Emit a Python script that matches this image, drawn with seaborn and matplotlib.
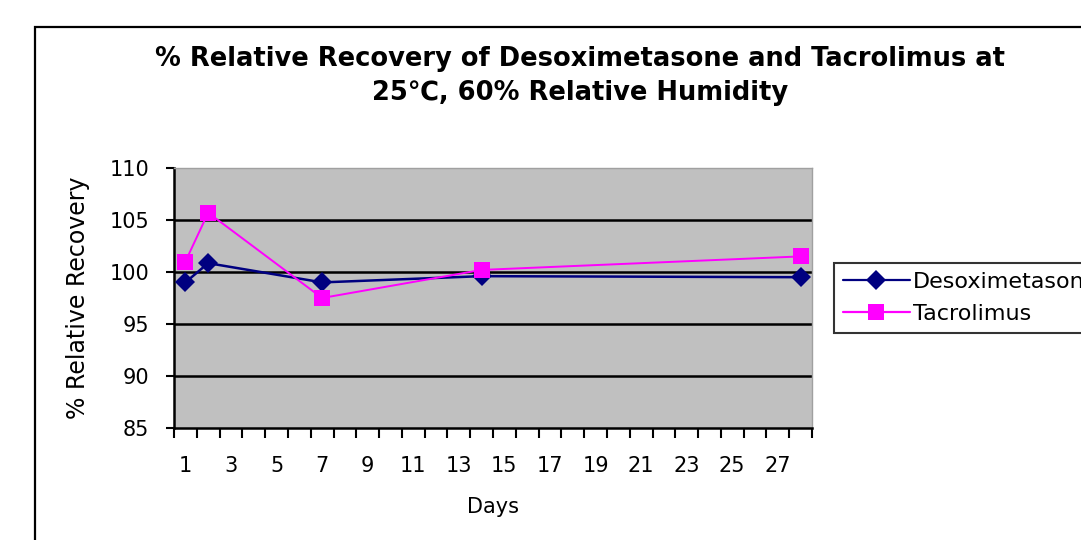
import numpy as np
import pandas as pd
import matplotlib
matplotlib.use("Agg")
import matplotlib.pyplot as plt
import matplotlib.patches as patches
import seaborn as sns

# Data
days = [1, 2, 7, 14, 28]
desoximetasone = [99.0, 100.85, 99.0, 99.6, 99.5]
tacrolimus = [101.0, 105.7, 97.5, 100.2, 101.5]
series_names = ["Desoximetasone", "Tacrolimus"]
odd_day_labels = [str(d) for d in range(1, 28, 2)]
y_ticks = [85, 90, 95, 100, 105, 110]


def build_frame():
    df = pd.DataFrame({
        "Day": days * 2,
        "Recovery": desoximetasone + tacrolimus,
        "Compound": [series_names[0]] * len(days) + [series_names[1]] * len(days),
    })
    return df


def main():
    sns.set_style("white")
    plt.rcParams["font.family"] = ["DejaVu Sans"]
    plt.rcParams["text.color"] = "black"
    plt.rcParams["axes.labelcolor"] = "black"
    plt.rcParams["xtick.color"] = "black"
    plt.rcParams["ytick.color"] = "black"

    df = build_frame()
    fig = plt.figure(figsize=(10.81, 5.40), dpi=100)
    ax = fig.add_axes([174 / 1081, 1 - 428 / 540, (812 - 174) / 1081, (428 - 168) / 540])
    ax.set_facecolor("#C0C0C0")

    # outer chart border (cropped at right/bottom in the reference)
    fig.patches.append(patches.Rectangle((35 / 1081, -0.2), 1.2, 0.2 + (1 - 27 / 540),
                                         transform=fig.transFigure, fill=False,
                                         edgecolor="black", linewidth=1.6, zorder=0))

    palette = {series_names[0]: "#000080", series_names[1]: "#FF00FF"}
    markers = {series_names[0]: "D", series_names[1]: "s"}
    sns.lineplot(data=df, x="Day", y="Recovery", hue="Compound", style="Compound",
                 palette=palette, markers=markers, dashes=False, ax=ax,
                 markersize=10, markeredgewidth=0, legend=False, zorder=3)
    ax.lines[0].set_linewidth(1.8)
    ax.lines[1].set_linewidth(1.4)
    ax.lines[1].set_markersize(11)

    ax.set_ylim(85, 110)
    ax.set_xlim(0.5, 28.5)
    ax.set_yticks(y_ticks)
    ax.set_yticklabels([str(v) for v in y_ticks], fontsize=15)
    for v in y_ticks[1:-1]:
        ax.axhline(v, color="black", linewidth=1.8, zorder=1)

    # category axis: ticks at boundaries, labels on odd days
    ax.set_xticks(np.arange(0.5, 29, 1))
    ax.set_xticklabels([])
    ax.set_xticks(range(1, 28, 2), minor=True)
    ax.set_xticklabels(odd_day_labels, minor=True, fontsize=15)
    ax.tick_params(axis="x", which="major", direction="out", length=7, width=1.5,
                   color="black", bottom=True)
    ax.tick_params(axis="x", which="minor", length=0, pad=20)
    ax.tick_params(axis="y", direction="out", length=6, width=1.5, color="black",
                   left=True, pad=12)

    for side in ["left", "bottom"]:
        ax.spines[side].set_color("black")
        ax.spines[side].set_linewidth(1.8)
    for side in ["top", "right"]:
        ax.spines[side].set_color("#A0A0A0")
        ax.spines[side].set_linewidth(1.0)

    ax.set_xlabel("Days", fontsize=15, labelpad=15)
    ax.set_ylabel("% Relative Recovery", fontsize=17, labelpad=14)

    fig.text(580 / 1081, 1 - 76 / 540,
             "% Relative Recovery of Desoximetasone and Tacrolimus at\n25\u2103, 60% Relative Humidity",
             ha="center", va="center", fontsize=18.5, fontweight="bold", linespacing=1.35)

    handles = [plt.Line2D([], [], color=palette[n], marker=markers[n], markersize=10 if n == series_names[0] else 11,
                          linewidth=1.6, markeredgewidth=0) for n in series_names]
    leg = fig.legend(handles, series_names, loc="upper left",
                     bbox_to_anchor=(834 / 1081, 1 - 263 / 540), fontsize=16,
                     frameon=True, fancybox=False, handlelength=3.0, borderpad=0.4,
                     handletextpad=0.15, labelspacing=0.55, borderaxespad=0)
    leg.get_frame().set_edgecolor("black")
    leg.get_frame().set_linewidth(1.5)

    fig.savefig("out.png", dpi=100)


if __name__ == "__main__":
    main()
